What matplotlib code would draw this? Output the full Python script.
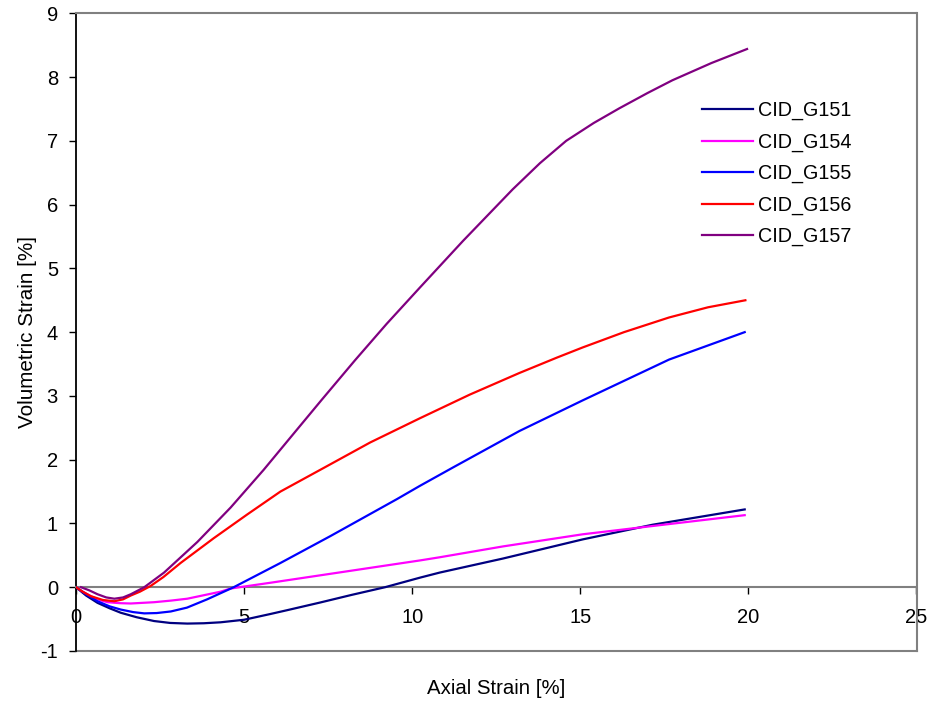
import matplotlib
matplotlib.use("Agg")
import matplotlib.pyplot as plt

plt.rcParams['font.family'] = ['Liberation Sans', 'DejaVu Sans']
plt.rcParams['axes.unicode_minus'] = False

# ---- data ----
x_g151 = [0, 0.3, 0.64, 1.0, 1.33, 1.8, 2.32, 2.8, 3.31, 3.8, 4.30, 5.0, 5.78, 6.28, 7.26, 8.2, 9.19, 10.23, 10.82, 12.7, 15.07, 17.15, 19.89]
y_g151 = [0, -0.13, -0.245, -0.33, -0.40, -0.47, -0.53, -0.56, -0.57, -0.565, -0.55, -0.51, -0.42, -0.36, -0.24, -0.12, 0.0, 0.15, 0.23, 0.45, 0.75, 0.98, 1.22]

x_g154 = [0, 0.2, 0.44, 0.7, 0.94, 1.3, 1.63, 2.32, 2.82, 3.31, 4.30, 4.60, 5.78, 7.56, 10.23, 10.82, 12.7, 15.07, 17.15, 19.89]
y_g154 = [0, -0.07, -0.14, -0.2, -0.235, -0.25, -0.255, -0.235, -0.21, -0.18, -0.07, -0.02, 0.07, 0.21, 0.42, 0.47, 0.64, 0.83, 0.96, 1.13]

x_g155 = [0, 0.3, 0.64, 1.0, 1.33, 1.7, 2.03, 2.4, 2.82, 3.3, 3.90, 4.69, 6.08, 7.56, 9.54, 10.23, 11.22, 13.19, 15.07, 17.64, 19.89]
y_g155 = [0, -0.11, -0.22, -0.30, -0.35, -0.39, -0.41, -0.405, -0.38, -0.32, -0.19, 0.0, 0.38, 0.80, 1.38, 1.59, 1.88, 2.45, 2.93, 3.57, 4.0]

x_g156 = [0, 0.2, 0.44, 0.8, 1.14, 1.4, 1.63, 1.9, 2.22, 2.6, 3.11, 4.10, 5.09, 6.08, 7.4, 8.75, 10.23, 11.71, 13.19, 14.3, 15.07, 16.3, 17.64, 18.8, 19.91]
y_g156 = [0, -0.07, -0.14, -0.2, -0.22, -0.19, -0.13, -0.07, 0.02, 0.16, 0.38, 0.77, 1.14, 1.50, 1.88, 2.27, 2.65, 3.02, 3.36, 3.60, 3.76, 4.00, 4.23, 4.39, 4.50]

x_g157 = [0.15, 0.4, 0.64, 0.9, 1.14, 1.4, 1.63, 2.03, 2.62, 3.61, 4.60, 5.58, 6.57, 7.31, 8.3, 9.24, 10.23, 11.51, 12.99, 13.8, 14.58, 15.4, 16.16, 17.0, 17.74, 18.9, 19.96]
y_g157 = [0, -0.05, -0.11, -0.16, -0.18, -0.16, -0.11, 0.0, 0.23, 0.71, 1.25, 1.84, 2.47, 2.94, 3.56, 4.13, 4.70, 5.43, 6.24, 6.65, 7.0, 7.28, 7.51, 7.75, 7.95, 8.22, 8.44]

labels = ['CID_G151', 'CID_G154', 'CID_G155', 'CID_G156', 'CID_G157']
colors = ['#000080', '#FF00FF', '#0000FF', '#FF0000', '#800080']

x_ticks = [0, 5, 10, 15, 20, 25]
y_ticks = [-1, 0, 1, 2, 3, 4, 5, 6, 7, 8, 9]

# ---- figure ----
fig = plt.figure(figsize=(9.32, 7.02), dpi=100)
W, H = 932, 702
ax = fig.add_axes([76 / W, 1 - 651 / H, (916.5 - 76) / W, (651 - 13.3) / H])

series = [(x_g151, y_g151), (x_g154, y_g154), (x_g155, y_g155), (x_g156, y_g156), (x_g157, y_g157)]
for (xs, ys), lab, c in zip(series, labels, colors):
    ax.plot(xs, ys, color=c, lw=1.6, label=lab, zorder=3, solid_joinstyle='round')

ax.set_xlim(0, 25)
ax.set_ylim(-1, 9)
ax.set_xticks(x_ticks)
ax.set_yticks(y_ticks)

gray = '#808080'
ax.spines['left'].set_color('black')
ax.spines['left'].set_linewidth(1.3)
for s in ['top', 'right']:
    ax.spines[s].set_color(gray)
    ax.spines[s].set_linewidth(1.5)
ax.spines['bottom'].set_position(('data', 0))
ax.spines['bottom'].set_color(gray)
ax.spines['bottom'].set_linewidth(1.5)
ax.axhline(-1, color=gray, lw=1.5, clip_on=False, zorder=2.5)

ax.tick_params(axis='y', direction='out', length=5, width=1, color='black', pad=8, labelsize=14.5)
ax.tick_params(axis='x', direction='out', length=5, width=1, color='black', pad=10, labelsize=14.5)

ax.set_xlabel('Axial Strain [%]', fontsize=14.7)
ax.xaxis.set_label_coords(0.5, -(679 - 651) / 637.7)
ax.set_ylabel('Volumetric Strain [%]', fontsize=14.9)
ax.yaxis.set_label_coords(-(76 - 37) / 840.5, 0.5)

leg = ax.legend(loc='upper left', bbox_to_anchor=((702 - 76) / 840.5, (651 - 101) / 637.7),
                frameon=False, fontsize=14.2, handlelength=2.59, handletextpad=0.25,
                borderpad=0, borderaxespad=0, labelspacing=0.62)

fig.savefig('out.png', dpi=100, facecolor='white')
